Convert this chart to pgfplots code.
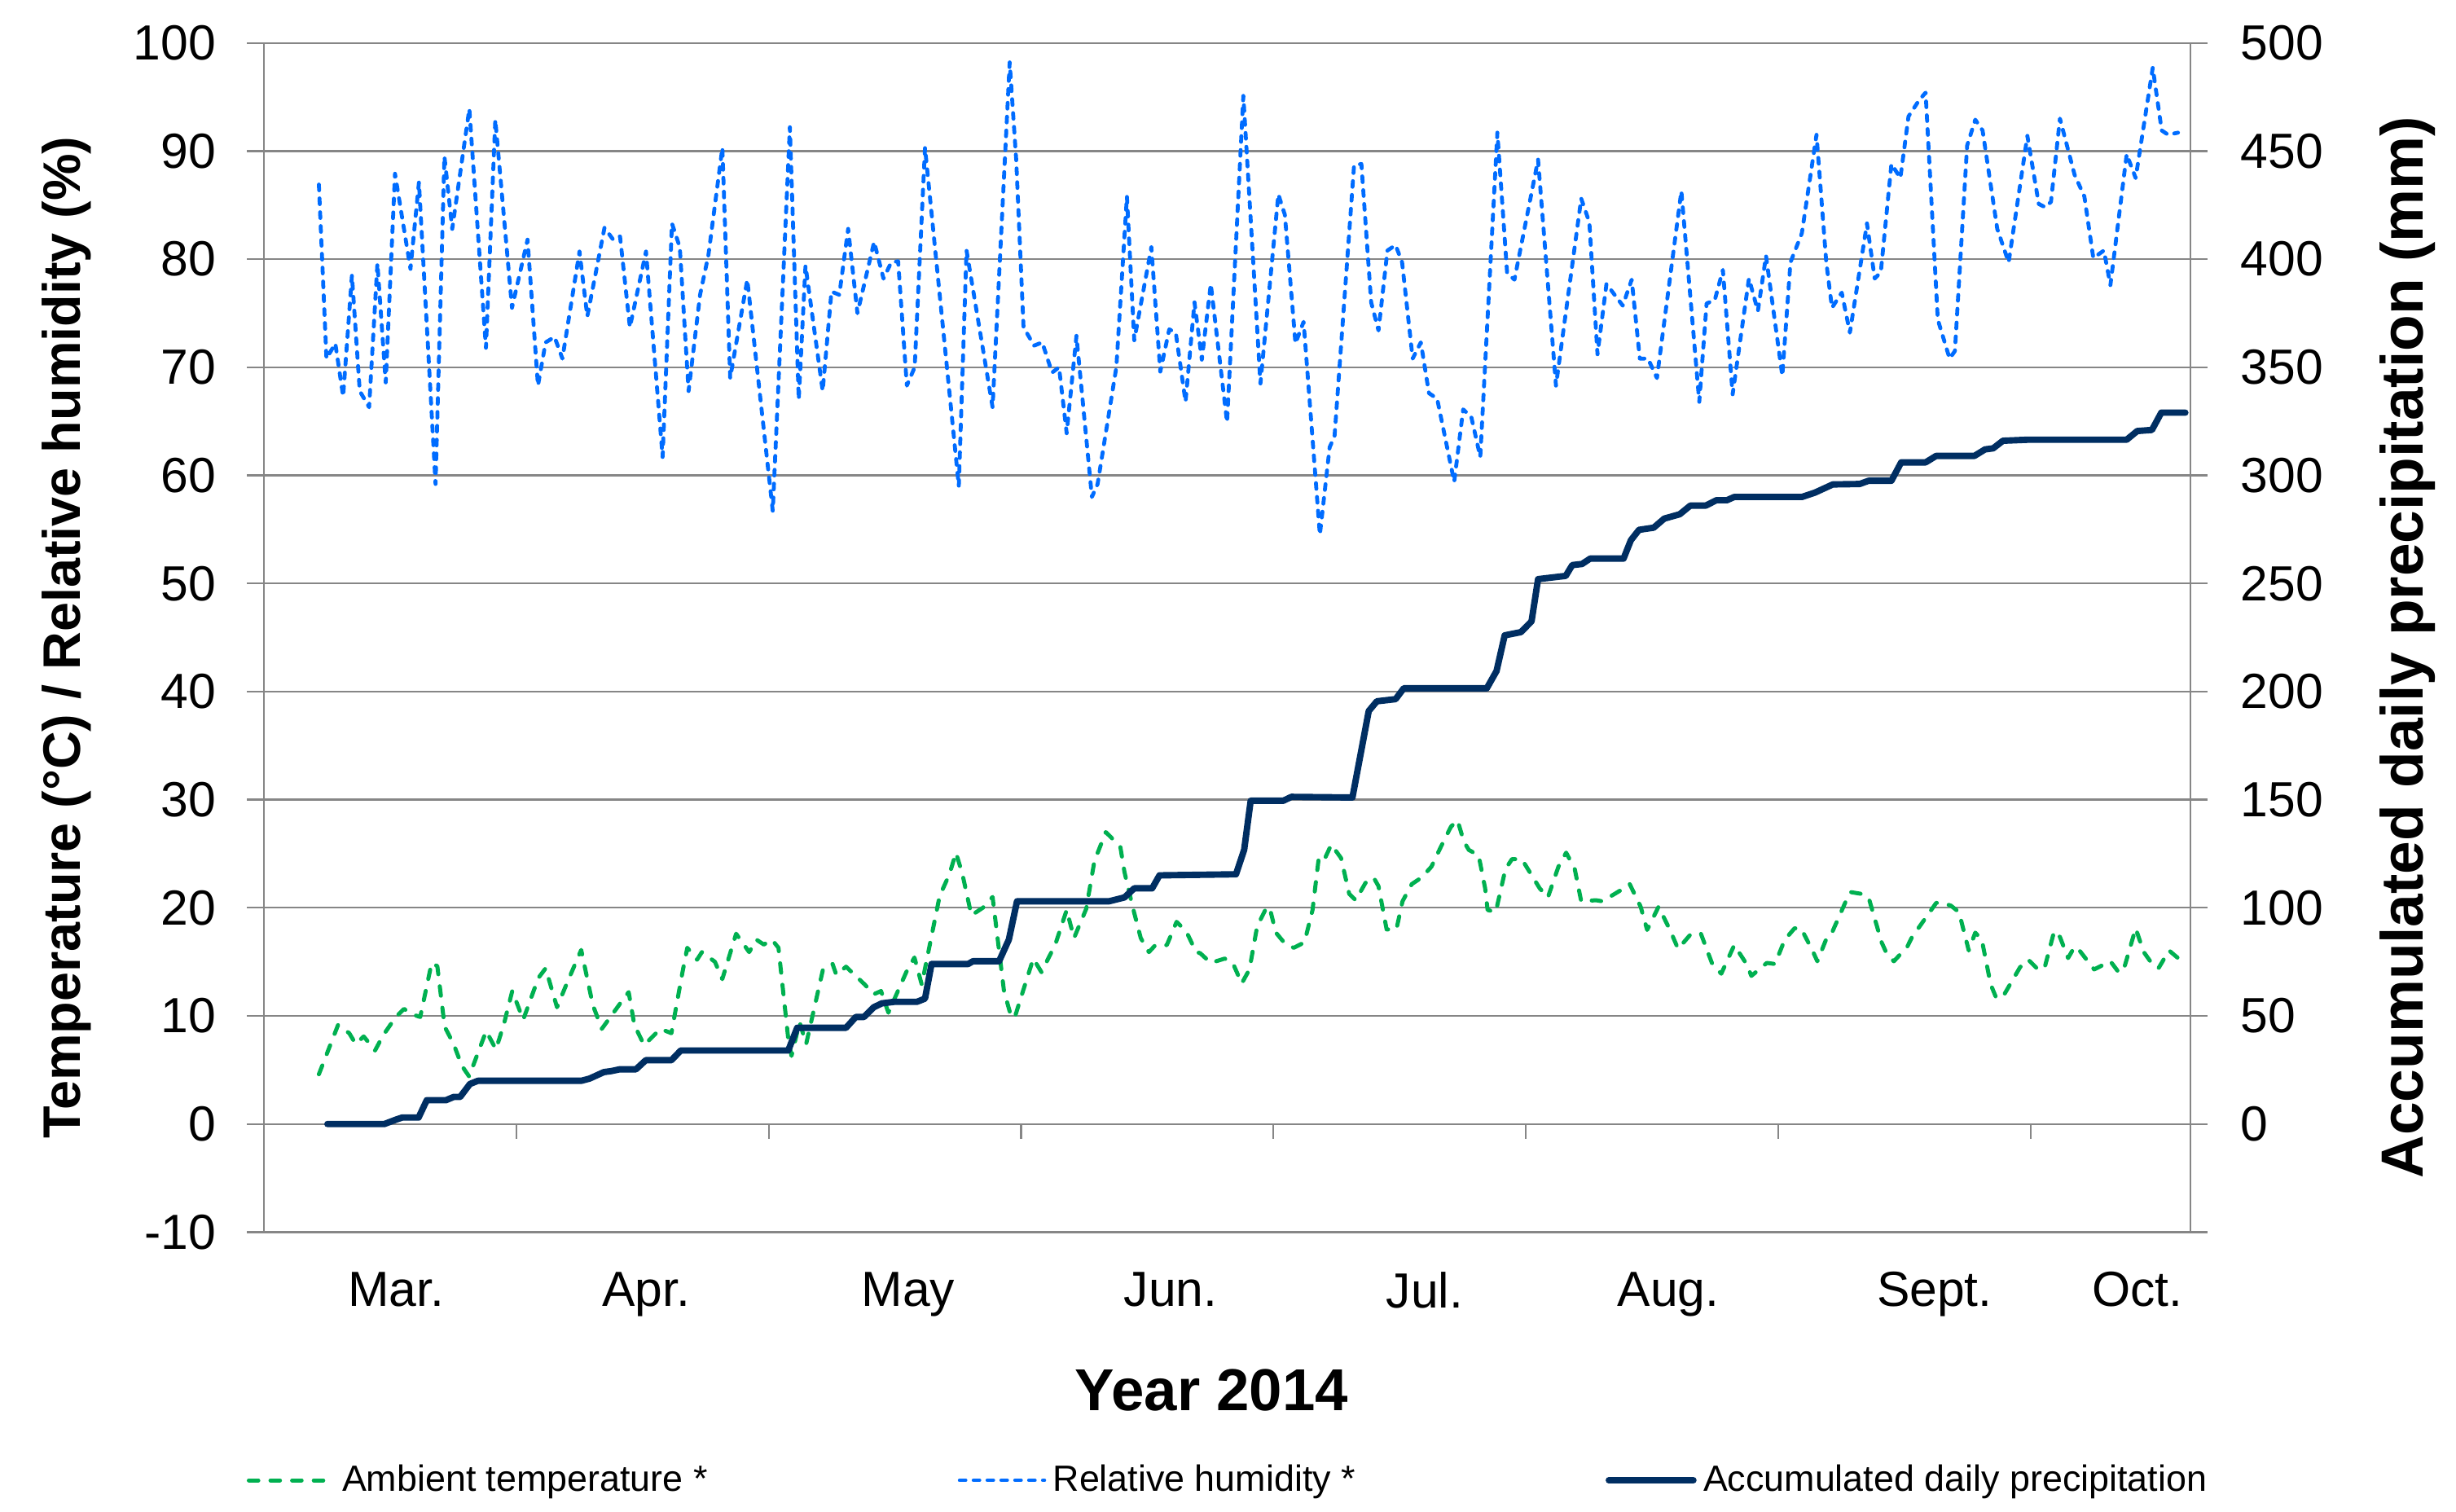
\documentclass[border=0pt]{standalone}
\usepackage{fontspec}
\setmainfont{Liberation Sans}
\usepackage{pgfplots}
\pgfplotsset{compat=1.18}
\definecolor{gridgray}{RGB}{134,134,134}
\definecolor{humblue}{RGB}{0,108,255}
\definecolor{tempgreen}{RGB}{0,176,80}
\definecolor{precnavy}{RGB}{0,46,98}
\tikzset{
  tempstyle/.style={tempgreen, line width=1.2pt, line cap=round, line join=round, dash pattern=on 2.8pt off 3.6pt},
  humstyle/.style={humblue, line width=1.15pt, line cap=round, line join=round, dash pattern=on 1.7pt off 2.4pt},
  precstyle/.style={precnavy, line width=1.9pt, line cap=round, line join=round}
}
\pgfplotstableread{
x y
6.75 4.6
9.1 9.15
10.48 8.4
11.27 7.4
12.26 8.1
13.65 6.8
14.64 8.2
16.2 9.9
17.2 10.65
18.2 10.15
19.2 9.9
20.6 14.9
21.3 14.6
22.2 9.0
23.3 7.4
24.3 5.4
25.2 4.4
27.3 8.6
28.5 6.9
29.5 9.3
30.5 12.3
31.85 9.65
33.7 13.5
34.6 14.4
36.0 10.8
37.2 13.0
38.97 16.1
40.4 11.0
41.5 8.8
43.9 11.3
44.8 12.2
45.5 9.15
46.7 7.3
48.7 8.8
50.05 8.4
51.4 14.0
52.0 16.3
53.2 15.2
53.8 15.9
55.4 15.0
56.3 13.4
58.0 17.6
59.6 15.9
60.5 17.05
61.4 16.6
62.4 17.05
63.2 16.3
64.4 7.9
64.8 6.3
65.8 9.4
66.6 7.4
68.7 14.4
69.85 14.8
70.3 13.8
71.5 14.55
73.8 12.9
74.9 12.0
75.8 12.3
76.7 10.3
78.9 14.05
79.9 15.4
80.8 12.9
83.0 21.1
84.2 23.1
85.0 25.1
85.8 23.1
86.9 19.3
88.3 20.0
89.5 21.0
90.9 12.3
91.7 10.15
92.2 9.8
92.9 11.5
94.5 15.3
95.5 14.05
97.2 16.6
98.6 19.8
99.5 17.2
101.0 19.9
102.0 24.3
103.4 27.0
104.2 26.4
105.2 25.6
105.7 23.3
106.7 20.1
107.7 17.2
108.7 15.9
109.5 16.55
110.9 16.55
112.1 18.7
113.3 17.8
114.5 15.9
115.0 15.8
116.3 14.9
118.0 15.3
119.0 14.9
120.1 13.0
121.05 14.3
122.0 18.3
123.2 20.1
123.6 19.8
124.3 17.7
125.4 16.7
126.5 16.3
127.8 16.8
128.8 19.8
129.6 24.85
130.4 24.7
131.1 25.85
132.3 24.6
133.3 21.3
134.1 20.7
135.3 22.3
136.3 22.8
136.9 22.0
137.9 18.0
139.1 18.0
139.85 20.6
141.0 22.2
142.2 22.8
143.4 23.8
144.6 25.7
145.8 27.5
146.6 28.1
147.4 26.1
148.0 25.35
149.2 24.85
150.0 21.8
150.3 19.8
151.3 19.6
152.5 23.6
153.3 24.5
154.5 24.5
156.7 21.8
157.7 20.95
159.0 23.8
159.95 25.1
161.0 23.6
161.8 20.6
163.6 20.7
164.4 20.6
166.6 21.6
167.75 22.2
169.1 20.1
169.9 17.95
171.3 20.1
172.7 17.95
173.7 16.2
175.3 17.6
176.5 17.6
177.9 14.8
179.0 13.9
180.6 16.55
182.1 14.8
182.7 13.7
184.6 14.9
185.6 14.8
186.8 17.05
188.0 18.1
188.8 18.1
190.2 16.05
190.8 15.05
192.0 17.3
192.6 17.7
194.3 20.6
194.9 21.45
196.1 21.3
197.1 20.95
198.7 16.8
199.3 15.8
200.2 15.05
201.85 16.4
202.6 17.55
203.2 18.1
205.4 20.45
206.2 20.45
207.2 20.2
208.2 19.6
209.4 16.05
210.2 17.7
211.0 17.05
212.1 12.9
212.7 11.8
213.5 11.65
215.7 14.5
216.7 15.2
217.9 14.3
218.7 14.4
219.9 17.85
220.6 17.3
221.6 15.35
222.4 16.4
223.0 16.05
224.8 14.3
226.8 15.05
227.8 14.05
228.4 14.2
229.9 18.1
230.9 15.9
231.7 15.05
232.7 14.4
234.0 16.05
235.1 15.35
}\temptable
\pgfplotstableread{
x y
6.75 86.9
7.68 70.8
8.77 72.2
9.73 67.3
10.81 78.5
11.77 67.8
12.92 66.3
13.94 79.6
14.96 68.6
16.1 87.9
18.0 79.1
19.04 87.1
21.08 59.2
22.17 89.5
23.13 82.8
25.23 93.9
27.27 71.8
28.42 92.9
30.47 75.5
32.38 81.8
33.66 68.3
34.6 72.3
35.7 72.8
36.66 70.8
38.76 80.7
39.72 74.7
41.83 82.9
42.9 81.8
43.74 82.1
44.95 73.7
46.93 80.7
48.97 61.7
50.12 83.3
51.08 81.1
52.16 67.8
53.57 76.7
54.6 80.4
56.31 90.3
57.27 69.0
59.37 78.1
62.5 56.7
64.6 92.2
65.69 67.0
66.52 79.4
68.63 67.8
69.71 77.0
70.67 76.7
71.76 82.8
72.9 75.0
74.95 81.6
76.1 78.2
77.05 79.7
77.9 79.8
78.97 68.3
79.93 70.0
81.2 90.3
85.35 59.0
86.3 80.8
89.5 66.3
91.6 98.2
92.4 89.2
93.3 73.7
94.6 72.0
95.6 72.3
96.8 69.5
97.66 70.0
98.6 63.9
99.8 72.9
101.7 58.0
102.4 59.2
104.7 70.0
106.0 85.8
106.9 72.5
109.0 81.1
110.1 69.6
111.2 73.5
112.0 73.2
113.2 66.8
114.3 76.0
115.2 70.7
116.3 77.7
118.3 64.9
120.3 95.1
122.4 68.5
124.6 86.0
125.4 84.1
126.7 72.2
127.7 74.2
129.7 54.5
130.9 62.6
131.5 63.6
133.9 88.7
134.8 88.8
136.0 76.0
136.9 73.4
138.0 80.8
139.0 81.3
139.8 79.7
141.1 70.8
142.1 72.3
143.1 67.6
144.1 67.1
146.2 59.4
147.3 66.1
148.3 65.4
149.4 61.7
151.5 91.7
152.7 78.7
153.6 78.1
156.5 89.2
158.7 68.3
161.8 85.6
162.8 83.4
163.8 71.2
164.9 77.7
166.9 75.7
168.0 78.1
169.0 70.8
170.0 70.8
171.1 69.0
174.1 86.3
176.3 66.8
177.2 75.9
178.2 76.2
179.2 79.0
180.4 67.5
182.4 78.2
183.5 75.2
184.5 80.3
186.5 69.2
187.5 79.7
188.9 82.4
190.7 91.5
191.9 79.7
192.6 75.5
193.8 76.9
194.8 73.2
196.9 83.3
197.85 78.2
198.6 78.8
199.9 88.8
201.0 87.5
202.0 93.2
203.3 94.7
204.1 95.4
205.6 74.4
207.05 70.8
207.7 71.5
209.2 90.5
210.2 92.9
211.1 91.9
212.9 82.8
214.3 79.7
216.6 91.4
218.0 85.1
218.8 84.8
219.5 85.3
220.6 93.0
222.4 87.8
223.6 85.8
224.7 80.1
226.0 80.8
226.8 77.6
228.8 89.7
229.9 87.5
232.0 97.7
233.1 91.9
233.9 91.5
235.1 91.7
}\humtable
\pgfplotstableread{
x y
7.8 0
14.8 0
16.2 2
17.0 3
19.0 3
20.0 11
22.35 11
23.3 12.5
24.1 12.5
25.3 18.5
26.3 20
39.0 20
40.0 21
41.75 24
42.7 24.5
43.7 25.3
45.7 25.3
46.9 29.5
50.05 29.5
51.2 34
64.4 34
65.5 44.5
71.5 44.5
72.7 49.5
73.7 49.5
74.9 54
75.9 55.8
77.4 56.5
80.2 56.5
81.2 58
82.0 74
86.5 74
87.1 75.3
90.3 75.3
91.5 85.3
92.5 103
103.8 103
105.7 104.8
106.9 109
109.1 109
110.0 115
119.4 115.5
120.4 126.8
121.2 149.5
125.2 149.5
126.2 151.3
133.7 151
135.7 191
136.7 195.5
139.0 196.5
140.0 201.5
150.2 201.5
151.4 209.5
152.4 226
154.4 227.5
155.7 232.5
156.5 252
159.9 253.5
160.7 258.5
161.9 259
162.9 261.5
167.0 261.5
167.9 270
168.9 274.8
170.7 275.8
172.0 280
173.9 282
175.2 286
177.1 286
178.4 288.5
179.7 288.5
180.6 290
188.9 290
190.5 292
192.7 295.8
196.0 296
197.1 297.5
199.9 297.5
201.1 306
204.1 306
205.4 309
210.1 309
211.4 312
212.4 312.5
213.6 316
216.8 316.5
228.8 316.5
230.1 320.5
231.9 321
233.05 329
236.0 329
}\prectable
\begin{document}
\begin{tikzpicture}
\useasboundingbox (-78.05pt,-82.76pt) rectangle (648.25pt,364.34pt);
% main (left) axis
\begin{axis}[
  at={(0pt,0pt)}, anchor=south west,
  scale only axis, width=569.74pt, height=351.65pt,
  xmin=0, xmax=236.64, ymin=-10, ymax=100,
  axis x line*=bottom, axis y line*=left,
  axis line style={draw=gridgray, line width=0.55pt},
  tick align=outside, major tick length=5pt,
  xtick={16.21,46.93,79.14,111.36,142.58,172.5,205.2,230.1},
  xticklabels={Mar.,Apr.,May,Jun.,Jul.,Aug.,Sept.,Oct.},
  xtick style={draw=none},
  xticklabel style={anchor=north, inner sep=0pt, yshift=-6.6pt},
  ytick={-10,0,...,100},
  ytick style={draw=gridgray, line width=0.55pt},
  yticklabel style={anchor=east, inner sep=0pt, xshift=-9pt},
  ymajorgrids, major grid style={draw=gridgray, line width=0.55pt},
  tick label style={font=\fontsize{14.6}{16}\selectfont},
  /pgf/number format/assume math mode=true,
  xlabel={Year 2014},
  xlabel style={font=\bfseries\fontsize{17.5}{20}\selectfont, at={(axis description cs:0.5,0)}, anchor=north, inner sep=0pt, yshift=-40.4pt, xshift=-4.6pt},
  ylabel={Temperature (°C) / Relative humidity (\%)},
  ylabel style={font=\bfseries\fontsize{15.6}{18}\selectfont, at={(axis description cs:-0.1155,0.5)}, anchor=north, inner sep=0pt},
]
\addplot[humstyle] table[x=x,y=y] {\humtable};
\addplot[tempstyle] table[x=x,y=y] {\temptable};
\end{axis}
% x axis at zero with month boundary ticks
\begin{axis}[
  at={(0pt,31.968pt)}, anchor=south west,
  scale only axis, width=569.74pt, height=319.68pt,
  xmin=0, xmax=236.64, ymin=0, ymax=1,
  axis x line*=bottom, axis y line=none,
  axis line style={draw=gridgray, line width=0.55pt},
  tick align=outside, major tick length=4.4pt,
  xtick={0,31,62,93,124,155,186,217}, xticklabels={},
  xtick style={draw=gridgray, line width=0.55pt},
]
\addplot[draw=none] coordinates {(0,0)};
\end{axis}
% right axis
\begin{axis}[
  at={(0pt,0pt)}, anchor=south west,
  scale only axis, width=569.74pt, height=351.65pt,
  xmin=0, xmax=236.64, ymin=-50, ymax=500,
  axis x line=none, axis y line*=right,
  axis line style={draw=gridgray, line width=0.55pt},
  tick align=outside, major tick length=5pt,
  ytick={-50,0,50,100,150,200,250,300,350,400,450,500},
  yticklabels={,0,50,100,150,200,250,300,350,400,450,500},
  ytick style={draw=gridgray, line width=0.55pt},
  yticklabel style={anchor=west, inner sep=0pt, xshift=9.7pt},
  tick label style={font=\fontsize{14.6}{16}\selectfont},
  ylabel={Accumulated daily precipitation (mm)},
  ylabel style={font=\bfseries\fontsize{17.6}{20}\selectfont, at={(axis description cs:1.0981,0.4915)}, anchor=north, inner sep=0pt},
  legend columns=3,
  legend image code/.code={\draw[#1] (0pt,0pt) -- (25pt,0pt);},
  legend style={draw=none, fill=none, inner sep=0pt, outer sep=0pt,
    font=\fontsize{10.8}{12}\selectfont,
    at={(axis description cs:-0.00888,-0.2087)}, anchor=west,
    nodes={inner sep=0pt},
    /tikz/every odd column/.append style={column sep=2pt},
    /tikz/every even column/.append style={column sep=74pt}},
  legend cell align=left,
]
\addlegendimage{tempstyle}
\addlegendentry{Ambient temperature *}
\addlegendimage{humstyle}
\addlegendentry{Relative humidity *}
\addplot[precstyle] table[x=x,y=y] {\prectable};
\addlegendentry{Accumulated daily precipitation}
\end{axis}
\end{tikzpicture}
\end{document}
